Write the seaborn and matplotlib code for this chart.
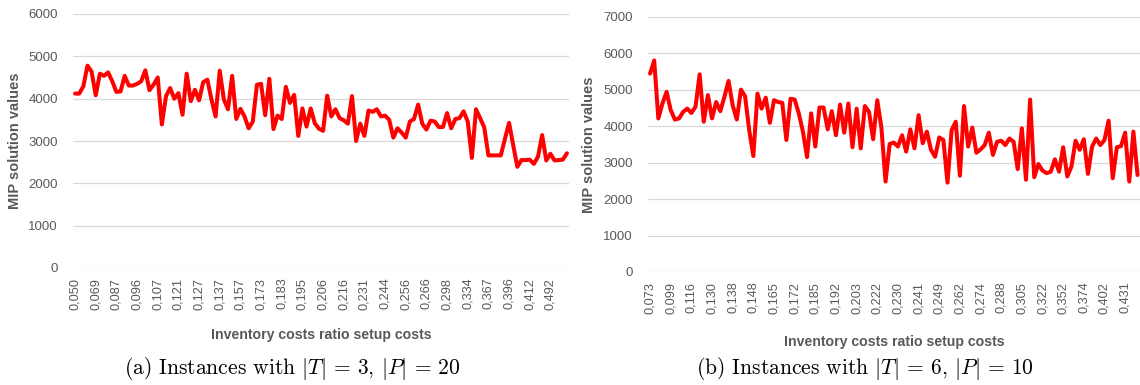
import matplotlib
matplotlib.use("Agg")
import matplotlib.pyplot as plt
import seaborn as sns
import pandas as pd
import numpy as np

# ---------------- data ----------------
values_a = [
    4120, 4120, 4290, 4780, 4640, 4080, 4590, 4540, 4620, 4410,
    4160, 4170, 4540, 4310, 4310, 4350, 4410, 4670, 4200, 4330,
    4500, 3390, 4060, 4250, 4000, 4130, 3620, 4590, 3940, 4210,
    3960, 4390, 4450, 3980, 3580, 4660, 3980, 3750, 4540, 3520,
    3760, 3580, 3300, 3460, 4330, 4350, 3610, 4470, 3280, 3600,
    3520, 4280, 3900, 4090, 3120, 3770, 3340, 3770, 3420, 3290,
    3240, 4070, 3580, 3750, 3540, 3490, 3410, 4060, 3000, 3410,
    3120, 3720, 3690, 3750, 3580, 3600, 3500, 3080, 3300, 3200,
    3080, 3460, 3520, 3860, 3410, 3270, 3480, 3460, 3330, 3330,
    3660, 3300, 3520, 3540, 3700, 3460, 2600, 3750, 3540, 3320,
    2660, 2660, 2660, 2660, 3050, 3430, 2900, 2390, 2550, 2550,
    2560, 2460, 2630, 3140, 2540, 2700, 2540, 2550, 2560, 2710,
]
labels_a = ["0,050", "0,069", "0,087", "0,096", "0,107", "0,121", "0,127", "0,137",
            "0,157", "0,173", "0,183", "0,195", "0,206", "0,216", "0,231", "0,244",
            "0,256", "0,266", "0,298", "0,334", "0,367", "0,396", "0,412", "0,492"]

values_b = [
    5440, 5800, 4210, 4620, 4940, 4440, 4180, 4210, 4390, 4480,
    4360, 4530, 5420, 4120, 4850, 4210, 4660, 4410, 4800, 5240,
    4570, 4180, 5000, 4820, 3890, 3180, 4890, 4480, 4780, 4090,
    4710, 4660, 4640, 3620, 4750, 4730, 4350, 3850, 3150, 4350,
    3440, 4510, 4510, 3910, 4410, 3750, 4590, 3820, 4620, 3420,
    4480, 3390, 4550, 4390, 3640, 4710, 3960, 2480, 3510, 3550,
    3440, 3750, 3300, 3910, 3390, 4300, 3530, 3850, 3350, 3160,
    3690, 3620, 2450, 3890, 4120, 2640, 4550, 3440, 3960, 3270,
    3360, 3480, 3820, 3210, 3570, 3600, 3480, 3660, 3570, 2820,
    3940, 2530, 4730, 2600, 2960, 2780, 2710, 2750, 3090, 2750,
    3420, 2620, 2890, 3600, 3350, 3640, 2690, 3440, 3660, 3480,
    3620, 4150, 2570, 3420, 3450, 3820, 2480, 3850, 2660,
]
labels_b = ["0,073", "0,099", "0,116", "0,130", "0,138", "0,148", "0,165", "0,172",
            "0,185", "0,192", "0,203", "0,222", "0,230", "0,241", "0,249", "0,262",
            "0,274", "0,288", "0,305", "0,322", "0,352", "0,374", "0,402", "0,431"]

y_label = "MIP solution values"
x_label = "Inventory costs ratio setup costs"
caption_a = r"(a) Instances with $|T|$ = 3, $|P|$ = 20"
caption_b = r"(b) Instances with $|T|$ = 6, $|P|$ = 10"

# ---------------- style ----------------
sns.set_theme(style="white")
plt.rcParams["font.family"] = ["Liberation Sans", "DejaVu Sans"]
plt.rcParams["mathtext.fontset"] = "cm"
GRAY = "#595959"
GRID = "#D9D9D9"

fig = plt.figure(figsize=(11.4, 3.85), dpi=100)
W, H = 1140, 385

def px_axes(x0, y0, x1, y1):
    return fig.add_axes([x0 / W, 1 - y1 / H, (x1 - x0) / W, (y1 - y0) / H])

ax_a = px_axes(73, 14, 569, 268)
ax_b = px_axes(648, 16.7, 1140, 272)

def draw(ax, vals, labels, ymax, xmax, xlab_y, ylab_x):
    df = pd.DataFrame({"idx": np.arange(len(vals)), "val": vals})
    sns.lineplot(data=df, x="idx", y="val", ax=ax, color="#FF0000",
                 linewidth=2.9, solid_joinstyle="round", solid_capstyle="round")
    ax.set_ylim(0, ymax)
    ax.set_xlim(-0.5, xmax)
    ax.set_yticks(np.arange(0, ymax + 1, 1000))
    ax.set_yticklabels([str(v) for v in range(0, ymax + 1, 1000)])
    ax.set_xticks(np.arange(len(labels)) * 5)
    ax.set_xticklabels(labels, rotation=90)
    for s in ax.spines.values():
        s.set_visible(False)
    ax.grid(False)
    for yv in range(0, ymax + 1, 1000):
        ax.axhline(yv, color=GRID, linewidth=0.9, zorder=0)
    ax.tick_params(axis="y", length=0, pad=11, labelsize=9.5, labelcolor=GRAY)
    ax.tick_params(axis="x", length=0, pad=7, labelsize=9.2, labelcolor=GRAY)
    ax.set_ylabel(y_label, fontsize=10.5, fontweight="bold", color=GRAY)
    ax.set_xlabel(x_label, fontsize=10.2, fontweight="bold", color=GRAY)
    ax.yaxis.set_label_coords(ylab_x, 0.5)
    ax.xaxis.set_label_coords(0.5, xlab_y)
    ax.set_facecolor("white")

draw(ax_a, values_a, labels_a, 6000, 119.5, -0.235, -0.103)
draw(ax_b, values_b, labels_b, 7000, 118.6, -0.245, -0.106)

fig.text(292 / W, 1 - 369 / H, caption_a, family="cmr10", fontsize=15.5,
         ha="center", va="center", color="black")
fig.text(865 / W, 1 - 369 / H, caption_b, family="cmr10", fontsize=15.5,
         ha="center", va="center", color="black")

fig.savefig("out.png", dpi=100, facecolor="white")
